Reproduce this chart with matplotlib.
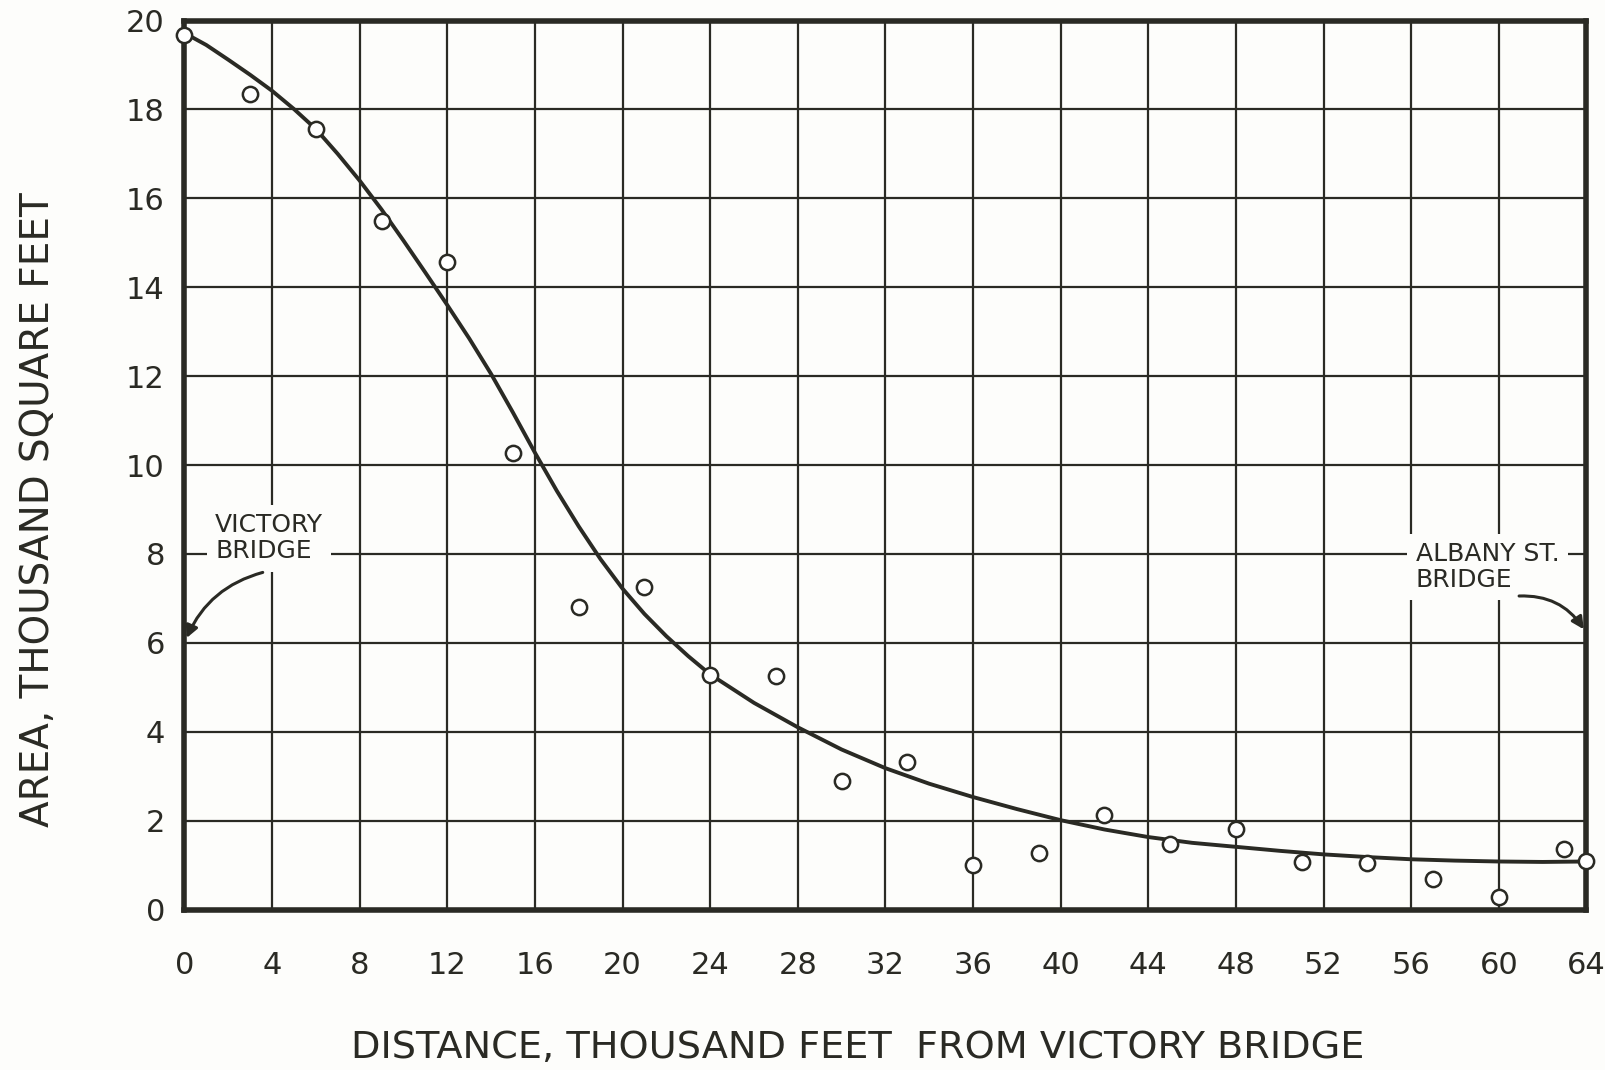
import numpy as np
import matplotlib.pyplot as plt

plt.rcParams['font.family'] = ['DejaVu Sans']

# measured cross-section areas (thousand sq ft) vs distance (thousand ft)
dist = [0, 3, 6, 9, 12, 15, 18, 21, 24, 27, 30, 33, 36, 39, 42, 45, 48, 51, 54, 57, 60, 63, 64]
area = [19.68, 18.35, 17.56, 15.49, 14.57, 10.27, 6.8, 7.26, 5.27, 5.25, 2.88, 3.32, 1.0, 1.27,
        2.12, 1.48, 1.8, 1.07, 1.04, 0.68, 0.27, 1.36, 1.1]

# smoothed curve
curve_x = [0, 1, 2, 3, 4, 5, 6, 7, 8, 9, 10, 11, 12, 13, 14, 15, 16, 17, 18, 19, 20, 21, 22,
           23, 24, 26, 28, 30, 32, 34, 36, 38, 40, 42, 44, 46, 48, 50, 52, 54, 56, 58, 60, 62, 64]
curve_y = [19.72, 19.45, 19.12, 18.78, 18.42, 18.01, 17.56, 17.0, 16.4, 15.75, 15.05, 14.33,
           13.6, 12.85, 12.05, 11.18, 10.28, 9.42, 8.62, 7.88, 7.22, 6.65, 6.15, 5.7, 5.29,
           4.65, 4.1, 3.6, 3.18, 2.83, 2.53, 2.26, 2.01, 1.8, 1.63, 1.5, 1.41, 1.32, 1.24,
           1.18, 1.13, 1.1, 1.08, 1.07, 1.08]

xticks = list(range(0, 65, 4))
yticks = list(range(0, 21, 2))

ink = '#2a2a24'
paper = '#fdfdfb'

fig = plt.figure(figsize=(16.06, 10.70), dpi=100, facecolor=paper)
ax = fig.add_axes([0.1148, 0.150, 0.8730, 0.8308])
ax.set_facecolor(paper)

ax.set_xlim(0, 64)
ax.set_ylim(0, 20)
ax.set_xticks(xticks)
ax.set_yticks(yticks)
ax.set_xticklabels([str(t) for t in xticks], fontsize=22, color=ink)
ax.set_yticklabels([str(t) for t in yticks], fontsize=22, color=ink)
ax.tick_params(length=0)
ax.tick_params(axis='y', pad=14)
ax.tick_params(axis='x', pad=30)
ax.grid(True, color=ink, linewidth=1.6)
ax.set_axisbelow(True)
for s in ax.spines.values():
    s.set_linewidth(4)
    s.set_color(ink)

ax.plot(curve_x, curve_y, color=ink, linewidth=2.8, zorder=3, solid_joinstyle='round')
ax.plot(dist, area, 'o', markersize=11, markerfacecolor='white', markeredgecolor=ink,
        markeredgewidth=1.8, clip_on=False, zorder=4)

# bridge notes
ax.text(1.4, 8.35, 'VICTORY\nBRIDGE', fontsize=18, color=ink, va='center', ha='left',
        linespacing=1.1, bbox=dict(facecolor=paper, edgecolor='none', pad=6), zorder=2)
ax.annotate('', xy=(0.05, 6.05), xytext=(3.7, 7.6),
            arrowprops=dict(arrowstyle='-|>', color=ink, lw=2.2, mutation_scale=18,
                            connectionstyle='arc3,rad=0.25'), zorder=5)
ax.text(56.2, 7.7, 'ALBANY ST.\nBRIDGE', fontsize=18, color=ink, va='center', ha='left',
        linespacing=1.1, bbox=dict(facecolor=paper, edgecolor='none', pad=6), zorder=2)
ax.annotate('', xy=(63.95, 6.25), xytext=(60.8, 7.05),
            arrowprops=dict(arrowstyle='-|>', color=ink, lw=2.2, mutation_scale=18,
                            connectionstyle='arc3,rad=-0.3'), zorder=5)

fig.text(0.534, 0.021, 'DISTANCE, THOUSAND FEET  FROM VICTORY BRIDGE', fontsize=27.5,
         color=ink, ha='center', va='center')
fig.text(0.0235, 0.524, 'AREA, THOUSAND SQUARE FEET', fontsize=28, color=ink,
         ha='center', va='center', rotation=90)

fig.savefig('out.png', dpi=100, facecolor=fig.get_facecolor())
